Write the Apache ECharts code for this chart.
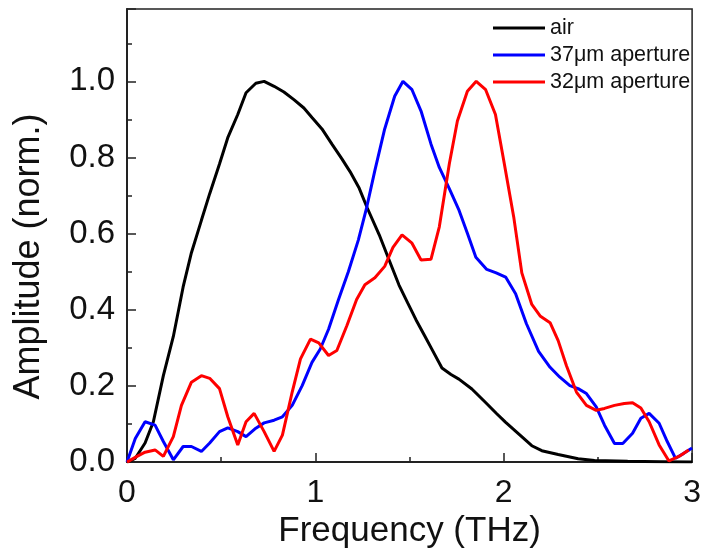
<!DOCTYPE html>
<html>
<head>
<meta charset="utf-8">
<script src="https://cdn.jsdelivr.net/npm/echarts@6/dist/echarts.min.js"></script>
<style>html,body{margin:0;padding:0;background:#fff}#c{width:704px;height:554px}</style>
</head>
<body>
<div id="c"></div>
<script>
var seriesNames = ['air', '37\u03bcm aperture', '32\u03bcm aperture'];
var xTicks = [0, 1, 2, 3];
var yTicks = [0.0, 0.2, 0.4, 0.6, 0.8, 1.0];

var airData = [[0,0],[0.044,0.01],[0.096,0.05],[0.14,0.106],[0.193,0.227],[0.246,0.33],[0.298,0.46],[0.342,0.55],[0.395,0.635],[0.439,0.705],[0.491,0.783],[0.535,0.852],[0.588,0.913],[0.632,0.97],[0.684,0.995],[0.728,1.0],[0.781,0.987],[0.833,0.972],[0.886,0.952],[0.939,0.93],[0.982,0.905],[1.035,0.875],[1.088,0.835],[1.14,0.797],[1.184,0.763],[1.233,0.719],[1.275,0.668],[1.339,0.597],[1.392,0.53],[1.444,0.465],[1.49,0.418],[1.534,0.374],[1.578,0.334],[1.619,0.296],[1.672,0.247],[1.72,0.23],[1.762,0.218],[1.831,0.192],[1.905,0.156],[1.963,0.127],[2.009,0.105],[2.079,0.074],[2.149,0.043],[2.202,0.03],[2.289,0.02],[2.395,0.009],[2.482,0.004],[2.658,0.002],[2.833,0.001],[3.0,0]];

var ap37Data = [[0,0],[0.044,0.062],[0.096,0.106],[0.149,0.097],[0.193,0.054],[0.246,0.006],[0.298,0.041],[0.342,0.041],[0.395,0.028],[0.439,0.05],[0.491,0.08],[0.535,0.09],[0.588,0.08],[0.632,0.067],[0.684,0.089],[0.728,0.103],[0.781,0.11],[0.825,0.119],[0.877,0.149],[0.93,0.201],[0.982,0.262],[1.026,0.297],[1.07,0.349],[1.123,0.427],[1.175,0.5],[1.228,0.583],[1.272,0.668],[1.316,0.766],[1.368,0.875],[1.421,0.961],[1.465,1.0],[1.513,0.978],[1.561,0.922],[1.614,0.835],[1.658,0.774],[1.711,0.718],[1.763,0.661],[1.807,0.601],[1.852,0.538],[1.91,0.506],[1.96,0.497],[2.01,0.486],[2.063,0.442],[2.12,0.364],[2.185,0.291],[2.246,0.249],[2.298,0.223],[2.351,0.201],[2.395,0.193],[2.439,0.18],[2.491,0.145],[2.535,0.097],[2.588,0.049],[2.632,0.049],[2.684,0.076],[2.728,0.115],[2.772,0.128],[2.825,0.102],[2.868,0.054],[2.912,0.01],[2.956,0.023],[3.0,0.037]];

var ap32Data = [[0,0],[0.053,0.015],[0.096,0.026],[0.149,0.032],[0.193,0.015],[0.246,0.067],[0.289,0.149],[0.342,0.21],[0.395,0.227],[0.439,0.22],[0.491,0.193],[0.535,0.119],[0.588,0.045],[0.632,0.106],[0.675,0.128],[0.728,0.08],[0.781,0.028],[0.825,0.071],[0.877,0.184],[0.921,0.271],[0.974,0.323],[1.018,0.313],[1.07,0.28],[1.114,0.293],[1.167,0.358],[1.219,0.427],[1.263,0.466],[1.316,0.484],[1.368,0.514],[1.412,0.564],[1.46,0.597],[1.513,0.575],[1.561,0.531],[1.614,0.533],[1.658,0.618],[1.711,0.783],[1.754,0.896],[1.807,0.974],[1.854,1.0],[1.904,0.978],[1.956,0.913],[2.0,0.792],[2.053,0.644],[2.096,0.497],[2.149,0.414],[2.193,0.384],[2.246,0.366],[2.289,0.319],[2.333,0.253],[2.386,0.184],[2.439,0.149],[2.491,0.136],[2.535,0.141],[2.588,0.149],[2.64,0.154],[2.684,0.156],[2.728,0.142],[2.772,0.106],[2.825,0.045],[2.877,0.003],[2.93,0.015],[2.982,0.032]];

var FONT = '"Liberation Sans", Arial, sans-serif';
var chart = echarts.init(document.getElementById('c'), null, {renderer: 'canvas'});

function mkSeries(name, data, color) {
  return {
    name: name, type: 'line', data: data, showSymbol: false, symbol: 'none',
    smooth: false, animation: false,
    lineStyle: {color: color, width: 3},
    itemStyle: {color: color}
  };
}

chart.setOption({
  animation: false,
  backgroundColor: '#fff',
  grid: {left: 127, right: 10, top: 9, bottom: 87, show: true, borderColor: '#222', borderWidth: 1.5, containLabel: false},
  legend: {
    orient: 'vertical', left: 488, top: 12, align: 'left',
    icon: 'rect', itemWidth: 52, itemHeight: 3, itemGap: 5,
    textStyle: {fontFamily: FONT, fontSize: 21.5, color: '#111', lineHeight: 22},
    data: seriesNames
  },
  xAxis: {
    type: 'value', min: 0, max: 3, interval: 1,
    name: 'Frequency (THz)', nameLocation: 'middle', nameGap: 44,
    nameTextStyle: {fontFamily: FONT, fontSize: 35, color: '#111'},
    axisLine: {show: true, onZero: false, lineStyle: {color: '#222', width: 2}},
    axisTick: {show: true, inside: true, length: 9, lineStyle: {color: '#222', width: 1.5}},
    minorTick: {show: true, splitNumber: 2, length: 5, lineStyle: {color: '#222', width: 1.5}},
    splitLine: {show: false},
    axisLabel: {fontFamily: FONT, fontSize: 32, color: '#111', margin: 15,
      formatter: function (v) { return xTicks.indexOf(v) >= 0 ? String(v) : ''; }}
  },
  yAxis: {
    type: 'value', min: 0, max: 1.19, interval: 0.2,
    name: 'Amplitude (norm.)', nameLocation: 'middle', nameGap: 80,
    nameTextStyle: {fontFamily: FONT, fontSize: 36, color: '#111', padding: [0, 42, 0, 0]},
    axisLine: {show: true, lineStyle: {color: '#222', width: 2}},
    axisTick: {show: true, inside: true, length: 9, lineStyle: {color: '#222', width: 1.5}},
    minorTick: {show: true, splitNumber: 2, length: 5, lineStyle: {color: '#222', width: 1.5}},
    splitLine: {show: false},
    axisLabel: {fontFamily: FONT, fontSize: 33, color: '#111', margin: 12, showMaxLabel: false,
      formatter: function (v) {
        for (var i = 0; i < yTicks.length; i++) { if (Math.abs(yTicks[i] - v) < 1e-6) return yTicks[i].toFixed(1); }
        return '';
      }}
  },
  series: [
    mkSeries(seriesNames[0], airData, '#000000'),
    mkSeries(seriesNames[1], ap37Data, '#0000ff'),
    mkSeries(seriesNames[2], ap32Data, '#ff0000')
  ]
});
</script>
</body>
</html>
